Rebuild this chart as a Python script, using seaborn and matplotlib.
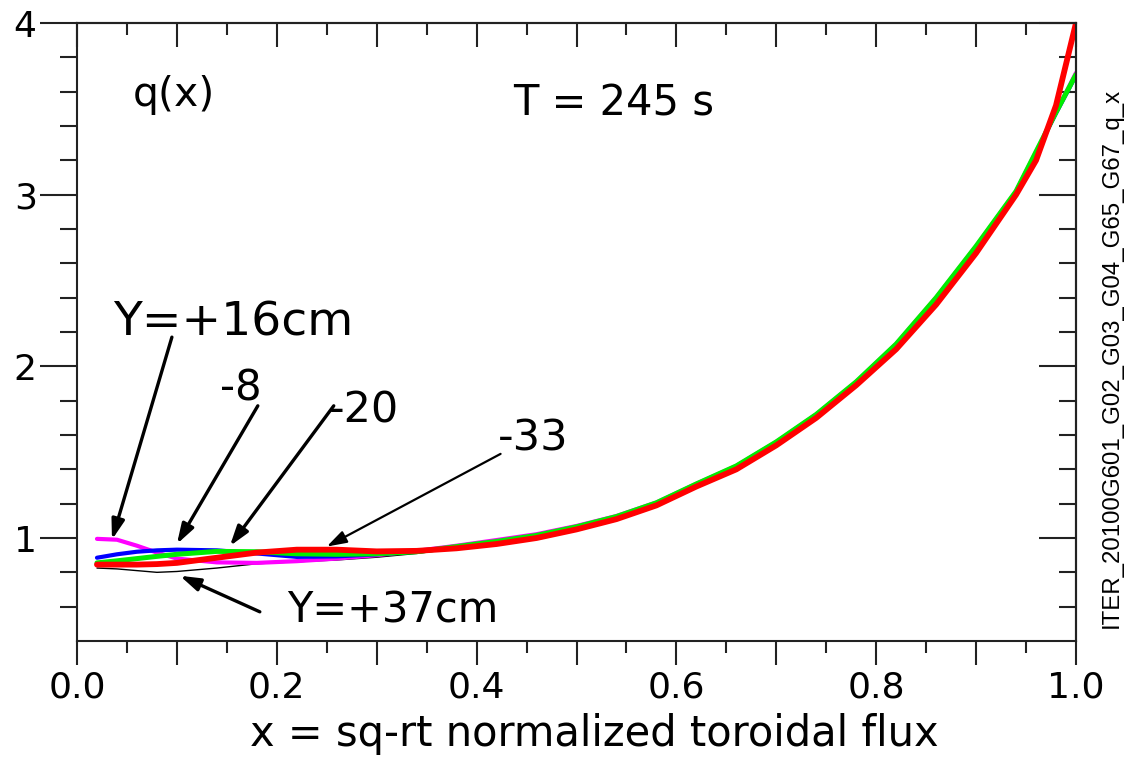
import numpy as np
import pandas as pd
import matplotlib
matplotlib.use("Agg")
import matplotlib.pyplot as plt
import seaborn as sns
from matplotlib.ticker import FixedLocator, FuncFormatter

# ---- data ----
x_vals = [0.02, 0.04, 0.06, 0.08, 0.10, 0.14, 0.18, 0.22, 0.26, 0.30, 0.34, 0.38,
          0.42, 0.46, 0.50, 0.54, 0.58, 0.62, 0.66, 0.70, 0.74, 0.78, 0.82, 0.86,
          0.90, 0.94, 0.96, 0.98, 1.00]

q_y37 = [0.825, 0.82, 0.81, 0.80, 0.805, 0.825, 0.85, 0.862, 0.872, 0.888, 0.91, 0.94,
         0.975, 1.01, 1.06, 1.12, 1.20, 1.31, 1.415, 1.555, 1.715, 1.905, 2.125, 2.395,
         2.695, 3.015, 3.245, 3.475, 3.695]
q_y16 = [0.995, 0.99, 0.955, 0.915, 0.88, 0.858, 0.855, 0.865, 0.88, 0.90, 0.925, 0.955,
         0.988, 1.022, 1.07, 1.128, 1.207, 1.316, 1.42, 1.56, 1.72, 1.91, 2.13, 2.40,
         2.70, 3.02, 3.25, 3.48, 3.71]
q_m8 = [0.885, 0.905, 0.92, 0.928, 0.932, 0.928, 0.91, 0.89, 0.893, 0.905, 0.922, 0.948,
        0.978, 1.013, 1.063, 1.122, 1.20, 1.31, 1.415, 1.555, 1.715, 1.905, 2.125, 2.395,
        2.695, 3.015, 3.245, 3.475, 3.695]
q_m20 = [0.855, 0.867, 0.88, 0.893, 0.905, 0.922, 0.92, 0.908, 0.905, 0.908, 0.92, 0.95,
         0.98, 1.015, 1.065, 1.125, 1.205, 1.315, 1.42, 1.56, 1.72, 1.91, 2.13, 2.40,
         2.70, 3.02, 3.25, 3.48, 3.70]
q_m33 = [0.845, 0.845, 0.845, 0.848, 0.855, 0.885, 0.915, 0.932, 0.932, 0.922, 0.925, 0.94,
         0.965, 1.00, 1.05, 1.11, 1.19, 1.30, 1.40, 1.54, 1.70, 1.89, 2.10, 2.36,
         2.66, 3.00, 3.20, 3.52, 4.00]

series_names = ["Y=+37cm", "Y=+16cm", "-8", "-20", "-33"]
series_vals = [q_y37, q_y16, q_m8, q_m20, q_m33]
series_colors = ["black", "#ff00ff", "#0000ff", "#00ee00", "#ff0000"]
series_widths = [1.0, 3.0, 3.0, 3.6, 4.2]

x_tick_vals = [0.0, 0.1, 0.2, 0.3, 0.4, 0.5, 0.6, 0.7, 0.8, 0.9, 1.0]
y_tick_vals = [1, 2, 3, 4]

# ---- figure ----
sns.set_theme(style="white")
plt.rcParams["font.family"] = ["DejaVu Sans"]
plt.rcParams["text.color"] = "black"
plt.rcParams["xtick.color"] = "black"
plt.rcParams["ytick.color"] = "black"
plt.rcParams["axes.labelcolor"] = "black"

fig = plt.figure(figsize=(11.42, 7.59), dpi=100)
ax = fig.add_axes([77 / 1142, 1 - 641 / 759, (1076 - 77) / 1142, (641 - 23) / 759])

for name, vals, col, lw in zip(series_names, series_vals, series_colors, series_widths):
    sns.lineplot(x=x_vals, y=vals, color=col, linewidth=lw, ax=ax, legend=False)

ax.set_xlim(0, 1.0)
ax.set_ylim(0.4, 4.0)

TC = "#222222"
for s in ax.spines.values():
    s.set_color(TC)
    s.set_linewidth(1.5)

# x axis (bottom, outward)
ax.xaxis.set_major_locator(FixedLocator(x_tick_vals))
ax.xaxis.set_minor_locator(FixedLocator(np.arange(0.05, 1.0, 0.1)))
ax.xaxis.set_major_formatter(FuncFormatter(
    lambda v, p: f"{v:.1f}" if round(v * 10) % 2 == 0 else ""))
ax.tick_params(axis="x", which="major", direction="out", length=17, width=1.5,
               color=TC, labelcolor="black", labelsize=26, pad=4, bottom=True, top=False)
ax.tick_params(axis="x", which="minor", direction="out", length=8.5, width=1.5,
               color=TC, bottom=True, top=False)

# y axis (left, outward)
ax.yaxis.set_major_locator(FixedLocator(y_tick_vals))
ax.yaxis.set_minor_locator(FixedLocator(np.arange(0.6, 4.0, 0.2)))
ax.yaxis.set_major_formatter(FuncFormatter(lambda v, p: f"{int(round(v))}"))
ax.tick_params(axis="y", which="major", direction="out", length=27, width=1.5,
               color=TC, labelcolor="black", labelsize=26, pad=2, left=True, right=False)
ax.tick_params(axis="y", which="minor", direction="out", length=12.5, width=1.5,
               color=TC, left=True, right=False)

# top axis: inward ticks
sec_x = ax.secondary_xaxis("top")
sec_x.xaxis.set_major_locator(FixedLocator(x_tick_vals))
sec_x.xaxis.set_minor_locator(FixedLocator(np.arange(0.05, 1.0, 0.1)))
sec_x.tick_params(which="major", direction="in", length=17, width=1.5, color=TC,
                  labeltop=False)
sec_x.tick_params(which="minor", direction="in", length=8.5, width=1.5, color=TC)
sec_x.spines["top"].set_linewidth(1.5)
sec_x.spines["top"].set_color(TC)

# right axis: inward ticks
sec_y = ax.secondary_yaxis("right")
sec_y.yaxis.set_major_locator(FixedLocator(y_tick_vals))
sec_y.yaxis.set_minor_locator(FixedLocator(np.arange(0.6, 4.0, 0.2)))
sec_y.tick_params(which="major", direction="in", length=27, width=1.5, color=TC,
                  labelright=False)
sec_y.tick_params(which="minor", direction="in", length=12.5, width=1.5, color=TC)
sec_y.spines["right"].set_linewidth(1.5)
sec_y.spines["right"].set_color(TC)

ax.set_xlabel("x = sq-rt normalized toroidal flux", fontsize=30, color="black")
ax.xaxis.label.set_verticalalignment("center")
ax.xaxis.set_label_coords(0.518, -0.150)
ax.set_ylabel("")

# texts
ax.text(0.056, 3.58, "q(x)", fontsize=29.5, va="center", ha="left")
ax.text(0.437, 3.53, "T = 245 s", fontsize=30, va="center", ha="left")

arrow_kw = dict(arrowstyle="-|>,head_length=1.0,head_width=0.32", color="black", lw=2.4,
                shrinkA=0, shrinkB=0)
ax.annotate("", xy=(0.035, 0.99), xytext=(0.095, 2.17), arrowprops=arrow_kw)
ax.annotate("", xy=(0.100, 0.965), xytext=(0.181, 1.77), arrowprops=arrow_kw)
ax.annotate("", xy=(0.153, 0.953), xytext=(0.257, 1.77), arrowprops=arrow_kw)
ax.annotate("", xy=(0.250, 0.95), xytext=(0.424, 1.49),
            arrowprops=dict(arrow_kw, lw=1.6))
ax.annotate("", xy=(0.103, 0.78), xytext=(0.183, 0.57), arrowprops=arrow_kw)

ax.text(0.036, 2.25, "Y=+16cm", fontsize=34, va="center", ha="left")
ax.text(0.143, 1.87, "-8", fontsize=30, va="center", ha="left")
ax.text(0.252, 1.74, "-20", fontsize=31, va="center", ha="left")
ax.text(0.421, 1.58, "-33", fontsize=31, va="center", ha="left")
ax.text(0.21, 0.58, "Y=+37cm", fontsize=30, va="center", ha="left")

fig.text(1112 / 1142, 1 - 358 / 759, "ITER_20100G601_G02_G03_G04_G65_G67_q_x",
         rotation=90, fontsize=17.3, va="center", ha="center",
         family=["Liberation Sans", "DejaVu Sans"])

fig.savefig("out.png", dpi=100)
